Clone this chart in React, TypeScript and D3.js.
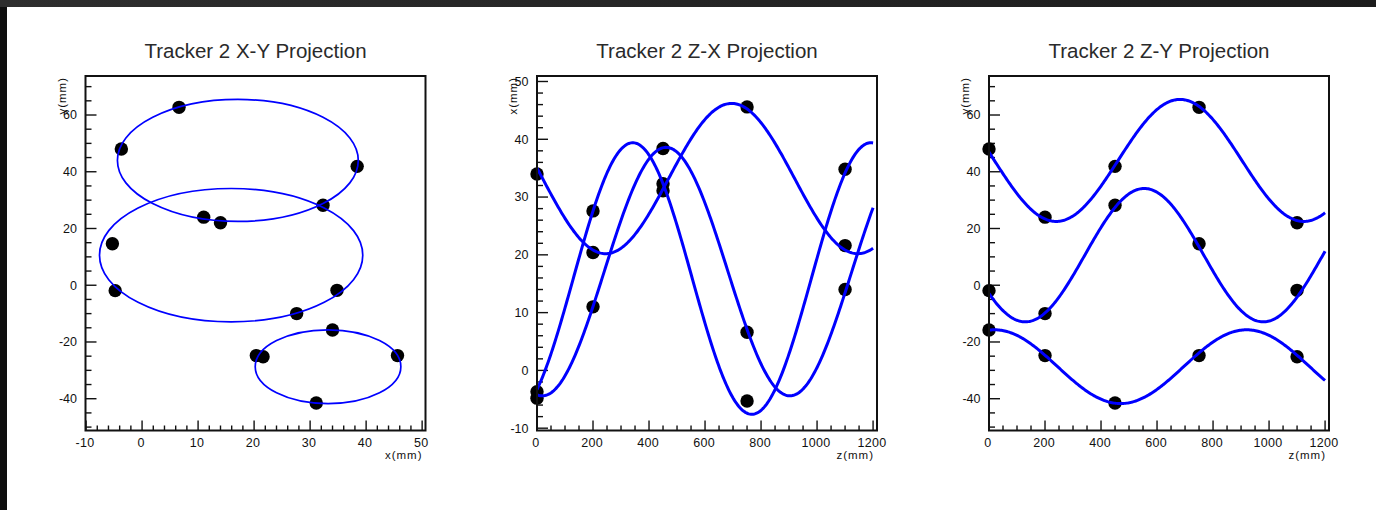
import React, { useEffect, useRef } from 'react';
import * as d3 from 'd3';

// tracker station positions along the beam (mm)
const stationZ = [0, 200, 450, 750, 1100];

// space points, one per station, for each of the three tracks
const hitXA = [-3.7, 11.0, 38.4, 6.6, 14.0];
const hitYA = [48.0, 24.0, 41.9, 62.7, 22.0];
const hitXB = [-4.8, 27.6, 32.3, -5.3, 34.8];
const hitYB = [-1.9, -10.0, 28.2, 14.6, -1.8];
const hitXC = [34.0, 20.4, 31.1, 45.6, 21.6];
const hitYC = [-15.8, -24.8, -41.5, -24.8, -25.2];

// fitted helix per track: circle centre, radius, pitch and z where x is smallest
const helixCx = [17.1, 15.9, 33.2];
const helixCy = [44.0, 10.6, -28.7];
const helixR = [21.5, 23.5, 13.0];
const helixPitch = [884, 850, 900];
const helixZxMin = [19, -83, 245];

const titles = ['Tracker 2 X-Y Projection', 'Tracker 2 Z-X Projection', 'Tracker 2 Z-Y Projection'];
const xTitles = ['x(mm)', 'z(mm)', 'z(mm)'];
const yTitles = ['y(mm)', 'x(mm)', 'y(mm)'];

const FONT = '"Liberation Sans", Arial, Helvetica, sans-serif';

const App = () => {
  const ref = useRef<SVGSVGElement>(null);

  useEffect(() => {
    const svg = d3.select(ref.current);
    svg.selectAll('*').remove();

    const W = 1376;
    const H = 510;

    // dark window edges
    const defs = svg.append('defs');
    const grad = defs.append('linearGradient').attr('id', 'topbar').attr('x1', 0).attr('x2', 1);
    grad.append('stop').attr('offset', 0).attr('stop-color', '#2e2e2e');
    grad.append('stop').attr('offset', 1).attr('stop-color', '#1c1c1c');
    svg.append('rect').attr('width', W).attr('height', H).attr('fill', '#fff');
    svg.append('rect').attr('width', W).attr('height', 7).attr('fill', 'url(#topbar)');
    svg.append('rect').attr('y', 7).attr('width', 7).attr('height', H - 7).attr('fill', '#0e0e0e');

    const tracksX = [hitXA, hitXB, hitXC];
    const tracksY = [hitYA, hitYB, hitYC];

    const theta = (i: number, z: number) => Math.PI + (2 * Math.PI * (z - helixZxMin[i])) / helixPitch[i];
    const zSamples = d3.range(0, 1200.01, 4);

    const panels = [
      { left: 85.5, xDom: [-10.1, 50.6], yDom: [-51.2, 73.75], xMaj: 10, xMin: 2, yMaj: 20, yMin: 5 },
      { left: 537, xDom: [0, 1214], yDom: [-10.4, 50.95], xMaj: 200, xMin: 50, yMaj: 10, yMin: 2 },
      { left: 989, xDom: [0, 1214], yDom: [-51.2, 73.75], xMaj: 200, xMin: 50, yMaj: 20, yMin: 5 },
    ];
    const top = 76;
    const bottom = 430.5;
    const pw = 340;

    const steps = (dom: number[], step: number) =>
      d3.range(Math.ceil(dom[0] / step - 1e-9) * step, dom[1] + 1e-9, step).map((v) => Math.round(v * 1000) / 1000);

    panels.forEach((p, k) => {
      const x = d3.scaleLinear().domain(p.xDom).range([p.left, p.left + pw]);
      const y = d3.scaleLinear().domain(p.yDom).range([bottom, top]);
      const g = svg.append('g');

      // title
      g.append('text')
        .attr('x', p.left + pw / 2)
        .attr('y', 58)
        .attr('text-anchor', 'middle')
        .attr('font-family', FONT)
        .attr('font-size', 20.5)
        .attr('fill', '#2a2a2a')
        .text(titles[k]);

      // ticks
      const minorX = steps(p.xDom, p.xMin);
      const majorX = steps(p.xDom, p.xMaj);
      const minorY = steps(p.yDom, p.yMin);
      const majorY = steps(p.yDom, p.yMaj);
      const isMaj = (v: number, s: number) => Math.abs(v / s - Math.round(v / s)) < 1e-6;

      g.selectAll('.tx')
        .data(minorX)
        .enter()
        .append('line')
        .attr('x1', (d) => x(d))
        .attr('x2', (d) => x(d))
        .attr('y1', bottom)
        .attr('y2', (d) => bottom - (isMaj(d, p.xMaj) ? 10 : 5))
        .attr('stroke', '#111')
        .attr('stroke-width', 1.4);

      g.selectAll('.ty')
        .data(minorY)
        .enter()
        .append('line')
        .attr('y1', (d) => y(d))
        .attr('y2', (d) => y(d))
        .attr('x1', p.left)
        .attr('x2', (d) => p.left + (isMaj(d, p.yMaj) ? 11 : 6))
        .attr('stroke', '#111')
        .attr('stroke-width', 1.4);

      g.selectAll('.lx')
        .data(majorX)
        .enter()
        .append('text')
        .attr('x', (d) => x(d) - 1)
        .attr('y', 446.5)
        .attr('text-anchor', 'middle')
        .attr('font-family', FONT)
        .attr('font-size', 12.5)
        .attr('letter-spacing', 0.3)
        .attr('fill', '#111')
        .text((d) => String(d));

      g.selectAll('.ly')
        .data(majorY)
        .enter()
        .append('text')
        .attr('x', p.left - 8.5)
        .attr('y', (d) => y(d) + 4.4)
        .attr('text-anchor', 'end')
        .attr('font-family', FONT)
        .attr('font-size', 12.5)
        .attr('fill', '#111')
        .text((d) => String(d));

      // axis titles
      g.append('text')
        .attr('x', p.left + pw - 3)
        .attr('y', 459)
        .attr('text-anchor', 'end')
        .attr('font-family', FONT)
        .attr('font-size', 11.5)
        .attr('letter-spacing', 1)
        .attr('fill', '#111')
        .text(xTitles[k]);

      g.append('text')
        .attr('transform', `translate(${p.left - 20},77) rotate(-90)`)
        .attr('text-anchor', 'end')
        .attr('font-family', FONT)
        .attr('font-size', 11.5)
        .attr('letter-spacing', 1)
        .attr('fill', '#111')
        .text(yTitles[k]);

      // markers
      tracksX.forEach((tx, i) => {
        const ty = tracksY[i];
        const px = k === 0 ? tx : stationZ;
        const py = k === 0 ? ty : k === 1 ? tx : ty;
        g.selectAll(null)
          .data(px)
          .enter()
          .append('circle')
          .attr('cx', (d) => x(d))
          .attr('cy', (_d, j) => y(py[j]))
          .attr('r', 6.7)
          .attr('fill', '#000');
      });

      // fitted curves
      helixR.forEach((r, i) => {
        if (k === 0) {
          g.append('ellipse')
            .attr('cx', x(helixCx[i]))
            .attr('cy', y(helixCy[i]))
            .attr('rx', Math.abs(x(r) - x(0)))
            .attr('ry', Math.abs(y(r) - y(0)))
            .attr('fill', 'none')
            .attr('stroke', '#0000ff')
            .attr('stroke-width', 1.7);
        } else {
          const line = d3
            .line<number>()
            .x((z) => x(z))
            .y((z) =>
              y(k === 1 ? helixCx[i] + r * Math.cos(theta(i, z)) : helixCy[i] + r * Math.sin(theta(i, z)))
            );
          g.append('path')
            .attr('d', line(zSamples))
            .attr('fill', 'none')
            .attr('stroke', '#0000ff')
            .attr('stroke-width', 3);
        }
      });

      // frame
      g.append('rect')
        .attr('x', p.left)
        .attr('y', top)
        .attr('width', pw)
        .attr('height', bottom - top)
        .attr('fill', 'none')
        .attr('stroke', '#111')
        .attr('stroke-width', 2);
    });
  }, []);

  return (
    <>
      <style>{'body{margin:0}'}</style>
      <svg ref={ref} width={1376} height={510} style={{ display: 'block' }}></svg>
    </>
  );
};

export default App;
